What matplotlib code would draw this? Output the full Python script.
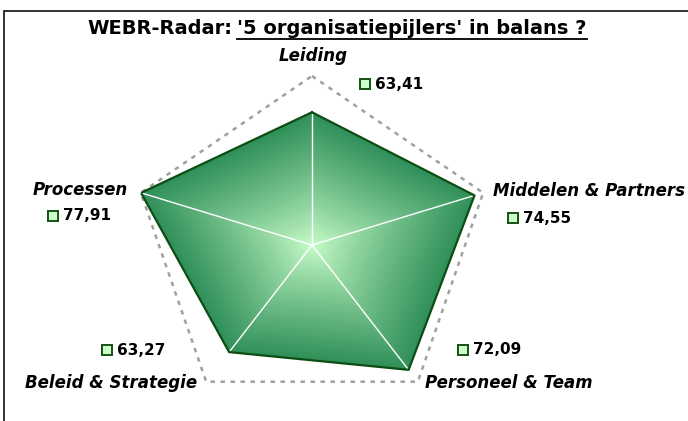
import numpy as np
import matplotlib
matplotlib.use('Agg')
import matplotlib.pyplot as plt
from matplotlib import transforms
from matplotlib.colors import to_rgb
from matplotlib.patches import Rectangle
from matplotlib.lines import Line2D

plt.rcParams['font.family'] = ['DejaVu Sans']

# data (clockwise from top)
categories = ['Leiding', 'Middelen & Partners', 'Personeel & Team',
              'Beleid & Strategie', 'Processen']
scores = [63.41, 74.55, 72.09, 63.27, 77.91]
score_labels = ['63,41', '74,55', '72,09', '63,27', '77,91']
r_min, r_max = 10, 78

# label placement, pixel offsets from the outer / data vertex
cat_offsets = [(1, 20, 'center'), (10, 2, 'left'), (7, -1, 'left'),
               (-9, -1, 'right'), (-13, 3, 'right')]
val_offsets = [(53, 28), (38, -23), (54, 20), (-122, 2), (-88, -23)]

W, H = 688, 421
fig = plt.figure(figsize=(W / 100, H / 100), dpi=100)
fig.patch.set_facecolor('white')

# chart frame (right and bottom edges fall outside the picture)
fig.add_artist(Rectangle((4 / W, -0.1), 1.2, 1.1 - 10.5 / H,
                         transform=fig.transFigure, fill=False,
                         ec='#222222', lw=1.3))

cx, cy, rx, ry = 312, 245, 180, 169
ax = fig.add_axes([(cx - rx) / W, 1 - (cy + ry) / H, 2 * rx / W, 2 * ry / H],
                  projection='polar')
ax.set_aspect('auto')
ax.set_theta_offset(np.pi / 2)
ax.set_theta_direction(-1)
ax.set_ylim(r_min, r_max)
ax.set_axis_off()

n = len(categories)
angles = np.arange(n) * 2 * np.pi / n
th = np.append(angles, angles[0])
vals = np.array(scores + [scores[0]])

# outer dashed pentagon
ax.plot(th, np.full(n + 1, r_max), color='#a0a0a0', lw=1.8,
        ls=(0, (1.8, 2.2)), clip_on=False)

# radial gradient fill
c_in = np.array(to_rgb('#ccffcc'))
c_out = np.array(to_rgb('#30905a'))
for t in np.linspace(1, 0, 70, endpoint=False):
    r = r_min + t * (vals - r_min)
    ax.fill(th, r, color=c_in + (c_out - c_in) * t ** 0.85, lw=0)

# spokes
for a, v in zip(angles, scores):
    ax.plot([a, a], [r_min, v], color='white', lw=1)

ax.plot(th, vals, color='#0d4d12', lw=1.6)

# category labels
for a, cat, (dx, dy, ha) in zip(angles, categories, cat_offsets):
    ax.annotate(cat, xy=(a, r_max), xytext=(dx, dy), textcoords='offset pixels',
                ha=ha, va='center', fontsize=12, fontweight='bold',
                fontstyle='italic', annotation_clip=False)

# value labels with legend key
for a, v, lab, (dx, dy) in zip(angles, scores, score_labels, val_offsets):
    tm = transforms.offset_copy(ax.transData, fig=fig, x=dx, y=dy, units='dots')
    tt = transforms.offset_copy(ax.transData, fig=fig, x=dx + 10, y=dy, units='dots')
    ax.plot([a], [v], marker='s', ms=7, mfc='#ccffcc', mec='#145214', mew=1.4,
            transform=tm, clip_on=False)
    ax.text(a, v, lab, transform=tt, ha='left', va='center', fontsize=11,
            fontweight='bold', clip_on=False)

# title with underlined part
ty = 1 - 34 / H
t1 = fig.text(87 / W, ty, 'WEBR-Radar:', fontsize=14, fontweight='bold',
              va='baseline', ha='left')
fig.canvas.draw()
rend = fig.canvas.get_renderer()
b1 = t1.get_window_extent(rend)
t2 = fig.text((b1.x1 + 5) / W, ty, "'5 organisatiepijlers' in balans ?",
              fontsize=14, fontweight='bold', va='baseline', ha='left')
fig.canvas.draw()
b2 = t2.get_window_extent(rend)
uy = 1 - 38.5 / H
fig.add_artist(Line2D([b2.x0 / W, b2.x1 / W], [uy, uy], color='black', lw=1.3,
                      transform=fig.transFigure))

fig.savefig('out.png', dpi=100, facecolor='white')
